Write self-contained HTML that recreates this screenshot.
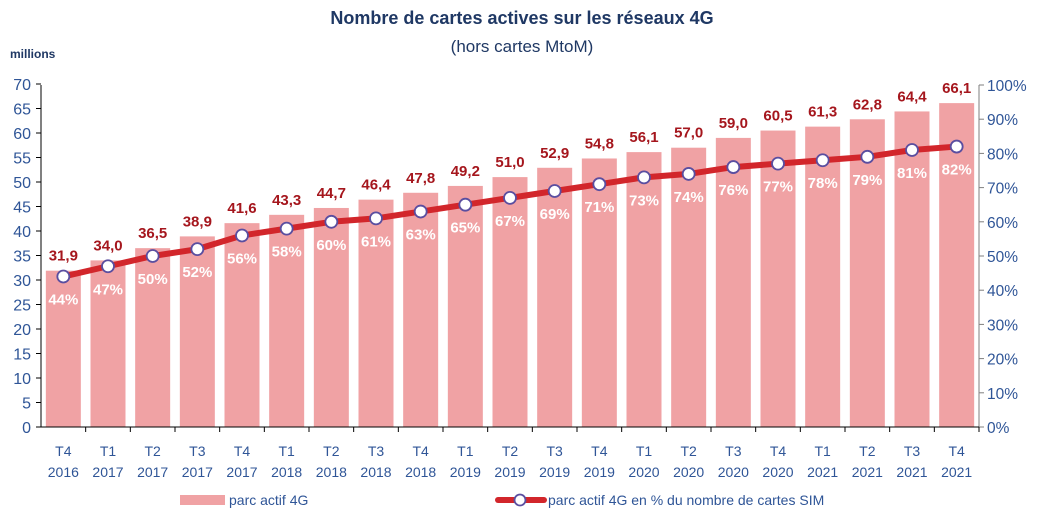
<!DOCTYPE html>
<html><head><meta charset="utf-8"><style>
body{margin:0;background:#fff;}
svg{display:block;font-family:"Liberation Sans",sans-serif;}
</style></head><body>
<svg width="1045" height="522" viewBox="0 0 1045 522" xmlns="http://www.w3.org/2000/svg">
<text x="522" y="24" text-anchor="middle" font-size="18" font-weight="bold" fill="#1f3864">Nombre de cartes actives sur les réseaux  4G</text>
<text x="522" y="52" text-anchor="middle" font-size="17" fill="#1f3864">(hors cartes MtoM)</text>
<text x="10" y="58" font-size="12" font-weight="bold" fill="#1f3864">millions</text>
<g id="c"></g>
</svg>
<script>
const vals=[31.9,34.0,36.5,38.9,41.6,43.3,44.7,46.4,47.8,49.2,51.0,52.9,54.8,56.1,57.0,59.0,60.5,61.3,62.8,64.4,66.1];
const pct=[44,47,50,52,56,58,60,61,63,65,67,69,71,73,74,76,77,78,79,81,82];
const q=["T4","T1","T2","T3","T4","T1","T2","T3","T4","T1","T2","T3","T4","T1","T2","T3","T4","T1","T2","T3","T4"];
const yr=[2016,2017,2017,2017,2017,2018,2018,2018,2018,2019,2019,2019,2019,2020,2020,2020,2020,2021,2021,2021,2021];
const L=41,R=979,Y0=427,sc=4.9,cw=(R-L)/21;
let s='';
const ax='#2f5597',grey='#7f7f7f';
for(let v=0;v<=70;v+=5){const y=Y0-v*sc;s+=`<line x1="${L-5}" y1="${y}" x2="${L}" y2="${y}" stroke="#000"/><text x="${L-10}" y="${y+6}" text-anchor="end" font-size="16" fill="${ax}">${v}</text>`;}
for(let p=0;p<=100;p+=10){const y=Y0-p*3.42;s+=`<line x1="${R}" y1="${y}" x2="${R+5}" y2="${y}" stroke="${grey}"/><text x="${R+8}" y="${y+6}" font-size="15.5" fill="${ax}">${p}%</text>`;}
let pts=[];
vals.forEach((v,i)=>{const cx=L+cw*(i+0.5),h=v*sc;
s+=`<rect x="${cx-17.5}" y="${Y0-h}" width="35" height="${h}" fill="#f0a2a4"/>`;
s+=`<text x="${cx}" y="${Y0-h-10}" text-anchor="middle" font-size="15" font-weight="bold" fill="#a5161d">${v.toFixed(1).replace('.',',')}</text>`;
s+=`<text x="${cx}" y="456" text-anchor="middle" font-size="14" fill="${ax}">${q[i]}</text><text x="${cx}" y="477" text-anchor="middle" font-size="14" fill="${ax}">${yr[i]}</text>`;
s+=`<line x1="${L+cw*(i+1)}" y1="${Y0}" x2="${L+cw*(i+1)}" y2="${Y0+5}" stroke="#000"/>`;
pts.push([cx,Y0-pct[i]*3.42]);});
s+=`<line x1="${L}" y1="85" x2="${L}" y2="${Y0}" stroke="#000"/><line x1="${R}" y1="85" x2="${R}" y2="${Y0}" stroke="${grey}"/><line x1="${L}" y1="${Y0}" x2="${R}" y2="${Y0}" stroke="#000"/>`;
s+=`<polyline points="${pts.map(p=>p.join(',')).join(' ')}" fill="none" stroke="#d2262b" stroke-width="6" stroke-linejoin="round"/>`;
pts.forEach((p,i)=>{s+=`<circle cx="${p[0]}" cy="${p[1]}" r="6" fill="#fff" stroke="#5a4ea0" stroke-width="1.8"/><text x="${p[0]}" y="${p[1]+28}" text-anchor="middle" font-size="15" font-weight="bold" fill="#fff">${pct[i]}%</text>`;});
s+=`<rect x="180" y="495" width="45" height="10" fill="#f0a2a4"/><text x="229" y="505" font-size="14" fill="${ax}">parc actif 4G</text>`;
s+=`<line x1="498" y1="500" x2="544" y2="500" stroke="#d2262b" stroke-width="6" stroke-linecap="round"/><circle cx="520" cy="500" r="5.5" fill="#fff" stroke="#5a4ea0" stroke-width="1.8"/><text x="548" y="505" font-size="14" fill="${ax}">parc actif 4G en % du nombre de cartes SIM</text>`;
document.getElementById('c').innerHTML=s;
</script>
</body></html>
